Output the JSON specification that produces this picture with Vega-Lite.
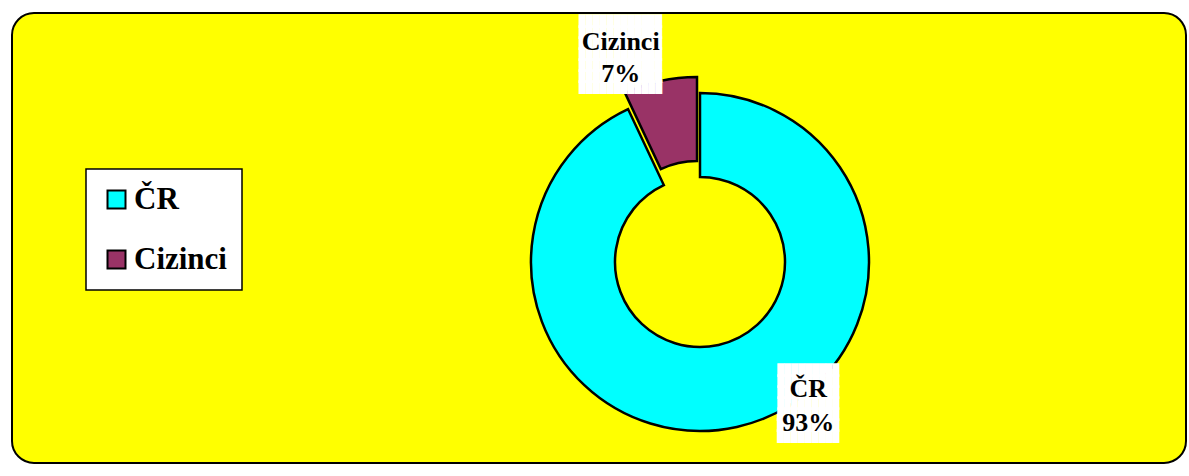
{
  "$schema": "https://vega.github.io/schema/vega-lite/v6.json",
  "width": 1189,
  "height": 476,
  "autosize": {"type": "fit", "contains": "padding"},
  "padding": {"left": 11, "top": 12, "right": 2, "bottom": 2},
  "background": "white",
  "config": {
    "view": {"stroke": null},
    "legend": {
      "orient": "none",
      "legendX": 74,
      "legendY": 156,
      "fillColor": "white",
      "strokeColor": "black",
      "strokeWidth": 1.5,
      "padding": 15,
      "symbolType": "square",
      "symbolSize": 324,
      "symbolStrokeColor": "black",
      "symbolStrokeWidth": 2,
      "symbolOpacity": 1,
      "labelFont": "Liberation Serif",
      "labelFontWeight": "bold",
      "labelFontSize": 31,
      "labelColor": "black",
      "labelOffset": 2,
      "rowPadding": 28,
      "labelLimit": 300
    }
  },
  "data": {
    "values": [
      {"kategorie": "ČR", "podil": 93},
      {"kategorie": "Cizinci", "podil": 7}
    ]
  },
  "transform": [
    {"calculate": "[datum.kategorie, datum.podil + '%']", "as": "popisek"}
  ],
  "layer": [
    {
      "data": {"values": [{"pozadi": "oblast grafu"}]},
      "transform": [],
      "mark": {"type": "rect", "fill": "#FFFF00", "stroke": "#000000", "strokeWidth": 2, "cornerRadius": 22},
      "encoding": {}
    },
    {
      "mark": {"type": "arc", "x": 688, "y": 249, "outerRadius": 169, "innerRadius": 85, "stroke": "black", "strokeWidth": 2.5},
      "encoding": {
        "theta": {"field": "podil", "type": "quantitative", "stack": true},
        "order": {"field": "podil", "type": "quantitative", "sort": "descending"},
        "color": {
          "field": "kategorie", "type": "nominal",
          "scale": {"domain": ["ČR", "Cizinci"], "range": ["#00FFFF", "#993366"]},
          "legend": {"title": null}
        },
        "opacity": {"condition": {"test": "datum.kategorie === 'Cizinci'", "value": 0}, "value": 1}
      }
    },
    {
      "mark": {"type": "arc", "x": 685, "y": 233, "outerRadius": 169, "innerRadius": 85, "stroke": "black", "strokeWidth": 2.5},
      "encoding": {
        "theta": {"field": "podil", "type": "quantitative", "stack": true},
        "order": {"field": "podil", "type": "quantitative", "sort": "descending"},
        "color": {"field": "kategorie", "type": "nominal"},
        "opacity": {"condition": {"test": "datum.kategorie === 'ČR'", "value": 0}, "value": 1}
      }
    },
    {
      "mark": {"type": "text", "x": 688, "y": 249, "radius": 208, "dx": -34, "dy": -37, "font": "DejaVu Sans Mono", "fontSize": 11.5, "lineHeight": 11, "align": "center", "baseline": "middle", "color": "white",
        "text": ["████████████", "████████████", "████████████", "████████████", "████████████", "████████████", "████████████"]},
      "encoding": {
        "theta": {"field": "podil", "type": "quantitative", "stack": true},
        "order": {"field": "podil", "type": "quantitative", "sort": "descending"},
        "detail": {"field": "kategorie"},
        "opacity": {"condition": {"test": "datum.kategorie === 'ČR'", "value": 0}, "value": 1}
      }
    },
    {
      "mark": {"type": "text", "x": 688, "y": 249, "radius": 148, "dx": 76, "dy": -35, "font": "DejaVu Sans Mono", "fontSize": 11.5, "lineHeight": 11, "align": "center", "baseline": "middle", "color": "white",
        "text": ["█████████", "█████████", "█████████", "█████████", "█████████", "█████████", "█████████"]},
      "encoding": {
        "theta": {"field": "podil", "type": "quantitative", "stack": true},
        "order": {"field": "podil", "type": "quantitative", "sort": "descending"},
        "detail": {"field": "kategorie"},
        "opacity": {"condition": {"test": "datum.kategorie === 'Cizinci'", "value": 0}, "value": 1}
      }
    },
    {
      "mark": {"type": "text", "x": 688, "y": 249, "radius": 208, "dx": -34, "dy": -17, "font": "Liberation Serif", "fontWeight": "bold", "fontSize": 26, "lineHeight": 32, "align": "center", "baseline": "middle", "color": "black"},
      "encoding": {
        "theta": {"field": "podil", "type": "quantitative", "stack": true},
        "order": {"field": "podil", "type": "quantitative", "sort": "descending"},
        "detail": {"field": "kategorie"},
        "text": {"field": "popisek"},
        "opacity": {"condition": {"test": "datum.kategorie === 'ČR'", "value": 0}, "value": 1}
      }
    },
    {
      "mark": {"type": "text", "x": 688, "y": 249, "radius": 148, "dx": 76, "dy": -17, "font": "Liberation Serif", "fontWeight": "bold", "fontSize": 26, "lineHeight": 34, "align": "center", "baseline": "middle", "color": "black"},
      "encoding": {
        "theta": {"field": "podil", "type": "quantitative", "stack": true},
        "order": {"field": "podil", "type": "quantitative", "sort": "descending"},
        "detail": {"field": "kategorie"},
        "text": {"field": "popisek"},
        "opacity": {"condition": {"test": "datum.kategorie === 'Cizinci'", "value": 0}, "value": 1}
      }
    }
  ]
}
